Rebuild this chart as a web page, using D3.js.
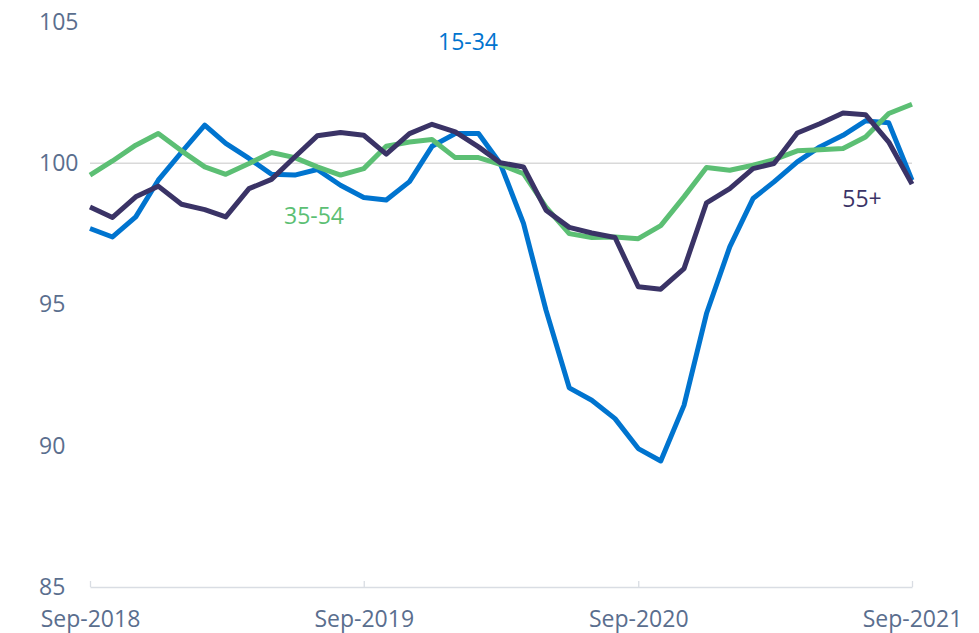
<!DOCTYPE html>
<html>
<head>
<meta charset="utf-8">
<script src="https://cdn.jsdelivr.net/npm/d3@7"></script>
<style>
  body { margin: 0; background: #fff; }
  text { font-family: "Open Sans", sans-serif; }
</style>
</head>
<body>
<div id="chart"></div>
<script>
// monthly, Sep-2018 .. Sep-2021
let months = d3.range(37).map(i => new Date(2018, 8 + i, 1));

let young = [97.69, 97.39, 98.1, 99.4, 100.39, 101.35, 100.7, 100.17, 99.61, 99.58,
  99.78, 99.22, 98.79, 98.7, 99.35, 100.6, 101.05, 101.05, 99.99, 97.87,
  94.8, 92.05, 91.61, 90.96, 89.9, 89.46, 91.43, 94.68, 97.04, 98.75,
  99.34, 100.05, 100.58, 100.99, 101.5, 101.43, 99.4];

let middle = [99.58, 100.08, 100.64, 101.05, 100.44, 99.87, 99.61, 99.99, 100.38, 100.2,
  99.87, 99.58, 99.81, 100.6, 100.75, 100.84, 100.2, 100.2, 99.96, 99.63,
  98.45, 97.51, 97.37, 97.39, 97.33, 97.79, 98.81, 99.85, 99.75, 99.93,
  100.13, 100.44, 100.48, 100.52, 100.93, 101.76, 102.09];

let older = [98.45, 98.08, 98.81, 99.19, 98.55, 98.36, 98.1, 99.1, 99.43, 100.22,
  100.97, 101.09, 100.99, 100.32, 101.05, 101.38, 101.11, 100.58, 100.02, 99.87,
  98.34, 97.73, 97.53, 97.37, 95.63, 95.54, 96.27, 98.6, 99.1, 99.81,
  99.99, 101.07, 101.4, 101.78, 101.72, 100.75, 99.26];

let series = [
  { name: "15-34", values: young, color: "#0074CF", lx: 468, ly: 50 },
  { name: "35-54", values: middle, color: "#5CBF74", lx: 314, ly: 224 },
  { name: "55+", values: older, color: "#3A3366", lx: 862, ly: 207 }
];

let yTicks = [85, 90, 95, 100, 105];
let xTicks = [new Date(2018, 8, 1), new Date(2019, 8, 1), new Date(2020, 8, 1), new Date(2021, 8, 1)];

let margin = { left: 90, right: 67, top: 22, bottom: 46 };
let svgW = 979;
let svgH = 633;
let chartW = svgW - margin.left - margin.right;
let chartH = svgH - margin.top - margin.bottom;

let x = d3.scaleTime()
  .domain([months[0], months[months.length - 1]])
  .range([0, chartW]);

let y = d3.scaleLinear()
  .domain([85, 105])
  .range([chartH, 0]);

let svg = d3.select("#chart")
  .append("svg")
  .attr("width", svgW)
  .attr("height", svgH);

let g = svg.append("g")
  .attr("transform", `translate(${margin.left},${margin.top})`);

// gridline at 100
g.append("line")
  .attr("x1", 0)
  .attr("x2", chartW)
  .attr("y1", y(100))
  .attr("y2", y(100))
  .attr("stroke", "#d9d9d9")
  .attr("stroke-width", 1.3);

let xAxis = g.append("g")
  .attr("transform", `translate(0,${chartH})`)
  .call(d3.axisBottom(x).tickValues(xTicks).tickFormat(d3.timeFormat("%b-%Y")).tickSize(6).tickSizeOuter(0));

xAxis.select(".domain").attr("stroke", "#d9dde3").attr("stroke-width", 1.3);
xAxis.selectAll(".tick line").attr("stroke", "#d9dde3").attr("stroke-width", 1.3).attr("y2", -6).attr("y1", 0);
xAxis.selectAll(".tick text")
  .attr("y", 40)
  .attr("dy", 0)
  .attr("fill", "#5a6e8e")
  .style("font-size", "23px");

let yAxis = g.append("g")
  .call(d3.axisLeft(y).tickValues(yTicks).tickSize(0));

yAxis.select(".domain").remove();
yAxis.selectAll(".tick text")
  .attr("x", -51)
  .attr("text-anchor", "start")
  .attr("fill", "#5a6e8e")
  .style("font-size", "23px");

let line = d3.line()
  .x((d, i) => x(months[i]))
  .y(d => y(d));

g.selectAll(".series")
  .data(series)
  .enter()
  .append("path")
  .attr("class", "series")
  .attr("d", d => line(d.values))
  .attr("fill", "none")
  .attr("stroke", d => d.color)
  .attr("stroke-width", 5)
  .attr("stroke-linejoin", "round");

svg.selectAll(".label")
  .data(series)
  .enter()
  .append("text")
  .attr("class", "label")
  .attr("x", d => d.lx)
  .attr("y", d => d.ly)
  .attr("text-anchor", "middle")
  .attr("fill", d => d.color)
  .style("font-size", "23px")
  .text(d => d.name);
</script>
</body>
</html>
